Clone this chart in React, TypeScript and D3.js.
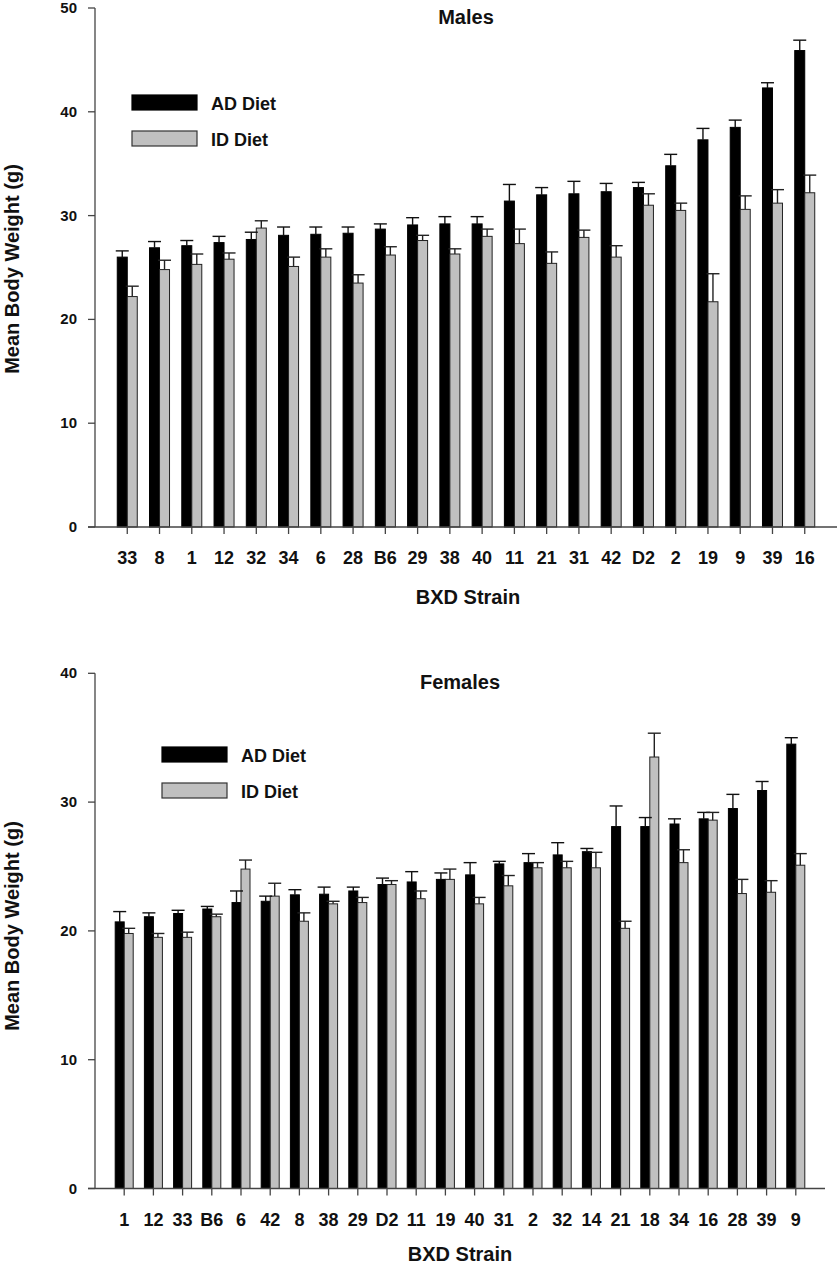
import React from "react";
import * as d3 from "d3";

const malesStrains = ["33","8","1","12","32","34","6","28","B6","29","38","40","11","21","31","42","D2","2","19","9","39","16"];
const malesAD = [26.0,26.9,27.1,27.4,27.7,28.1,28.2,28.3,28.7,29.1,29.2,29.2,31.4,32.0,32.1,32.3,32.7,34.8,37.3,38.5,42.3,45.9];
const malesADErr = [0.6,0.6,0.5,0.6,0.7,0.8,0.7,0.6,0.5,0.7,0.7,0.7,1.6,0.7,1.2,0.8,0.5,1.1,1.1,0.7,0.5,1.0];
const malesID = [22.2,24.8,25.3,25.8,28.8,25.1,26.0,23.5,26.2,27.6,26.3,28.0,27.3,25.4,27.9,26.0,31.0,30.5,21.7,30.6,31.2,32.2];
const malesIDErr = [1.0,0.9,1.0,0.6,0.7,0.9,0.8,0.8,0.8,0.5,0.5,0.7,1.4,1.1,0.7,1.1,1.1,0.7,2.7,1.3,1.3,1.7];
const malesTicks = [0,10,20,30,40,50];

const femalesStrains = ["1","12","33","B6","6","42","8","38","29","D2","11","19","40","31","2","32","14","21","18","34","16","28","39","9"];
const femalesAD = [20.7,21.1,21.35,21.7,22.2,22.3,22.8,22.85,23.1,23.6,23.8,24.0,24.35,25.2,25.3,25.9,26.15,28.1,28.1,28.3,28.7,29.5,30.9,34.5];
const femalesADErr = [0.8,0.3,0.25,0.2,0.9,0.4,0.4,0.55,0.3,0.5,0.8,0.5,0.95,0.2,0.7,0.95,0.25,1.6,0.7,0.4,0.5,1.1,0.7,0.5];
const femalesID = [19.8,19.5,19.5,21.1,24.8,22.7,20.75,22.1,22.2,23.6,22.5,24.0,22.1,23.5,24.9,24.9,24.9,20.2,33.5,25.3,28.6,22.9,23.0,25.1];
const femalesIDErr = [0.4,0.3,0.4,0.2,0.7,1.0,0.65,0.2,0.4,0.3,0.6,0.8,0.5,0.8,0.4,0.5,1.2,0.55,1.85,1.0,0.6,1.1,0.9,0.9];
const femalesTicks = [0,10,20,30,40];

const seriesNames = ["AD Diet", "ID Diet"];
const FONT = "'Liberation Sans', Arial, Helvetica, sans-serif";
const GRAY = "#c0c0c0";

type PanelProps = {
  title: string;
  strains: string[];
  ad: number[];
  adErr: number[];
  id: number[];
  idErr: number[];
  ticks: number[];
  yMax: number;
  x0: number;
  x1: number;
  yBase: number;
  yTop: number;
  barW: number;
  capW: number;
  titleX: number;
  titleY: number;
  legendX: number;
  legendY: number;
  legendGap: number;
  legendTextX: number;
  xTitleX: number;
  xTitleY: number;
  yTitleY: number;
};

function Panel(p: PanelProps) {
  const x = d3.scalePoint<string>().domain(p.strains).range([p.x0, p.x1]).padding(1);
  const y = d3.scaleLinear().domain([0, p.yMax]).range([p.yBase, p.yTop]);
  const axisColor = "#444";
  return (
    <g fontFamily={FONT}>
      {/* bars */}
      {p.strains.map((s, i) => {
        const c = x(s)!;
        const adTop = y(p.ad[i]);
        const idTop = y(p.id[i]);
        const adE = y(p.ad[i] + p.adErr[i]);
        const idE = y(p.id[i] + p.idErr[i]);
        const adC = c - p.barW / 2;
        const idC = c + p.barW / 2;
        return (
          <g key={s}>
            <rect x={c - p.barW} y={adTop} width={p.barW} height={p.yBase - adTop} fill="#000" stroke="#000" strokeWidth={1} />
            <rect x={c} y={idTop} width={p.barW} height={p.yBase - idTop} fill={GRAY} stroke="#222" strokeWidth={1} />
            <line x1={adC} x2={adC} y1={adTop} y2={adE} stroke="#111" strokeWidth={1.4} />
            <line x1={adC - p.capW / 2} x2={adC + p.capW / 2} y1={adE} y2={adE} stroke="#111" strokeWidth={1.4} />
            <line x1={idC} x2={idC} y1={idTop} y2={idE} stroke="#222" strokeWidth={1.4} />
            <line x1={idC - p.capW / 2} x2={idC + p.capW / 2} y1={idE} y2={idE} stroke="#222" strokeWidth={1.4} />
          </g>
        );
      })}
      {/* axes */}
      <line x1={p.x0} x2={p.x0} y1={p.yBase} y2={p.yTop} stroke={axisColor} strokeWidth={1.3} />
      <line x1={p.x0 - 7} x2={p.x1} y1={p.yBase} y2={p.yBase} stroke={axisColor} strokeWidth={1.3} />
      {p.ticks.map((t) => (
        <g key={t}>
          <line x1={p.x0 - 7} x2={p.x0} y1={y(t)} y2={y(t)} stroke={axisColor} strokeWidth={1.3} />
          <text x={77} y={y(t) + 5} textAnchor="end" fontSize={15} fontWeight="bold" fill="#111">{t}</text>
        </g>
      ))}
      {p.strains.map((s) => (
        <g key={"t" + s}>
          <line x1={x(s)!} x2={x(s)!} y1={p.yBase} y2={p.yBase + 7} stroke={axisColor} strokeWidth={1.3} />
          <text x={x(s)!} y={p.yBase + 37} textAnchor="middle" fontSize={18} fontWeight="bold" fill="#111">{s}</text>
        </g>
      ))}
      {/* titles */}
      <text x={p.titleX} y={p.titleY} textAnchor="middle" fontSize={20} fontWeight="bold" fill="#111">{p.title}</text>
      <text x={p.xTitleX} y={p.xTitleY} textAnchor="middle" fontSize={20} fontWeight="bold" fill="#111">BXD Strain</text>
      <text transform={`translate(19,${p.yTitleY}) rotate(-90)`} textAnchor="middle" fontSize={20} fontWeight="bold" fill="#111">Mean Body Weight (g)</text>
      {/* legend */}
      {seriesNames.map((n, i) => (
        <g key={n}>
          <rect x={p.legendX} y={p.legendY + i * p.legendGap} width={65} height={15} fill={i === 0 ? "#000" : GRAY} stroke={i === 0 ? "#000" : "#333"} strokeWidth={1.2} />
          <text x={p.legendTextX} y={p.legendY + i * p.legendGap + 14.5} fontSize={18} fontWeight="bold" fill="#111">{n}</text>
        </g>
      ))}
    </g>
  );
}

export default function App() {
  return (
    <svg width={837} height={1267} style={{ position: "absolute", left: 0, top: 0, background: "#fff" }}>
      <rect x={0} y={0} width={837} height={1267} fill="#fff" />
      <Panel
        title="Males"
        strains={malesStrains}
        ad={malesAD}
        adErr={malesADErr}
        id={malesID}
        idErr={malesIDErr}
        ticks={malesTicks}
        yMax={50}
        x0={95}
        x1={837}
        yBase={527}
        yTop={8}
        barW={10}
        capW={13}
        titleX={466}
        titleY={24}
        legendX={132}
        legendY={95}
        legendGap={36}
        legendTextX={211}
        xTitleX={468}
        xTitleY={604}
        yTitleY={269}
      />
      <Panel
        title="Females"
        strains={femalesStrains}
        ad={femalesAD}
        adErr={femalesADErr}
        id={femalesID}
        idErr={femalesIDErr}
        ticks={femalesTicks}
        yMax={40}
        x0={95}
        x1={825}
        yBase={1188.5}
        yTop={673.3}
        barW={9}
        capW={13}
        titleX={460}
        titleY={689}
        legendX={162}
        legendY={747}
        legendGap={36}
        legendTextX={241}
        xTitleX={460}
        xTitleY={1261}
        yTitleY={926}
      />
    </svg>
  );
}
